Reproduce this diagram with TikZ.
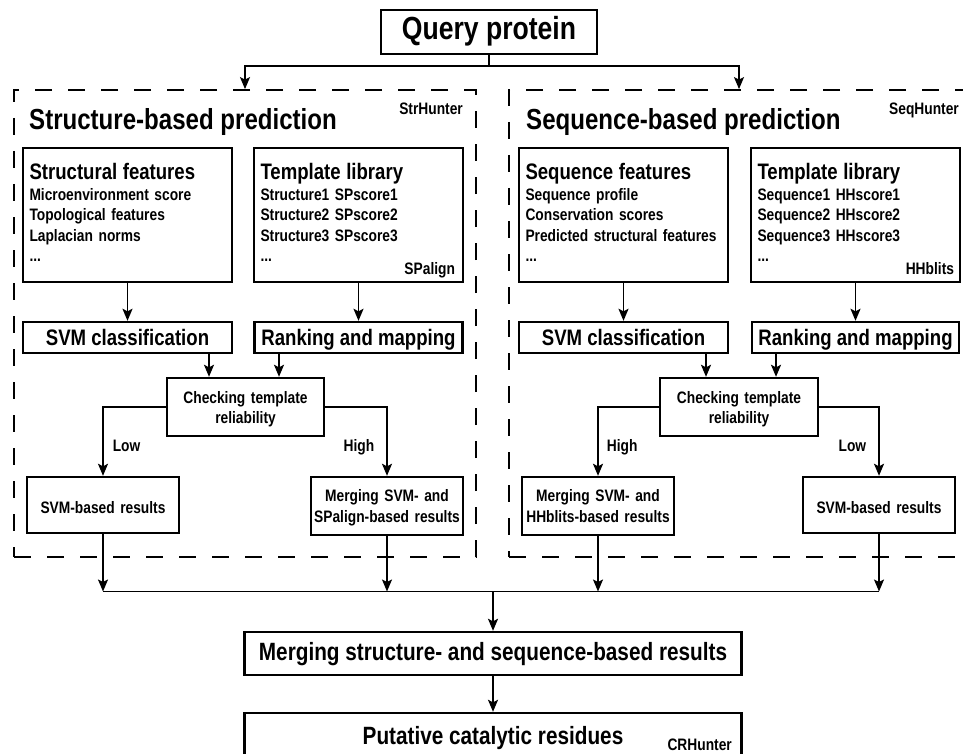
\documentclass[tikz,border=0pt]{standalone}
\usepackage{fontspec}
\setmainfont{Liberation Sans}[FakeStretch=0.83]
\usetikzlibrary{arrows.meta}

\newcommand\fsz[2]{\fontsize{#1}{#2}\selectfont\bfseries}

\tikzset{
  solidbox/.style={draw,line width=2.4pt,inner xsep=2pt,inner ysep=0pt,align=center},
  listbox/.style={draw,line width=2.4pt,inner xsep=6.5pt,inner ysep=0pt,align=left,
    text width=196pt,text height=32pt,text depth=102pt,font=\fsz{16.6}{20.4}},
  midbox/.style={solidbox,text height=23pt,text depth=8pt,font=\fsz{22.4}{24}},
  resbox/.style={solidbox,text width=148pt,font=\fsz{16.6}{21}},
  dashframe/.style={draw,line width=1.8pt,dash pattern=on 17pt off 16pt,inner sep=0pt},
  arr/.style={line width=1.6pt,-{Stealth[length=12pt,width=10pt,inset=2.5pt]}},
  conn/.style={line width=1.6pt},
  tag/.style={inner sep=0pt,font=\fsz{16.6}{20}},
  headline/.style={inner sep=0pt,font=\fsz{29}{30}},
}

\begin{document}
\begin{tikzpicture}[x=1pt,y=-1pt]
  \useasboundingbox (0,0) rectangle (963,754);

  % input
  \node[solidbox,minimum width=216pt,text height=30pt,text depth=14pt,font=\fsz{32}{34}] (query) at (489,32) {Query protein};

  % the two predictors
  \node[dashframe,minimum width=462pt,minimum height=467pt] (strframe) at (245,323.5) {};
  \node[dashframe,minimum width=460pt,minimum height=467pt] (seqframe) at (739,323.5) {};
  \node[headline,anchor=base west] (strtitle) at (29,129.5) {Structure-based prediction};
  \node[tag,anchor=base east] (strtool) at (463,114.5) {StrHunter};
  \node[headline,anchor=base west] (seqtitle) at (526,129.5) {Sequence-based prediction};
  \node[tag,anchor=base east] (seqtool) at (959,114.5) {SeqHunter};

  \coordinate (split) at (489,66);
  \draw[conn] (query.south) -- (split);
  \draw[arr] (split) -| (strframe.north);
  \draw[arr] (split) -| (seqframe.north);

  % structure side
  \node[listbox] (strfeat) at (127.5,215) {{\fsz{22.4}{20.4}Structural features}\\Microenvironment score\\Topological features\\Laplacian norms\\...};
  \node[listbox] (strtmpl) at (358.5,215) {{\fsz{22.4}{20.4}Template library}\\Structure1 SPscore1\\Structure2 SPscore2\\Structure3 SPscore3\\...};
  \node[tag,anchor=base east] (spalign) at ([xshift=-9pt,yshift=9pt]strtmpl.south east) {SPalign};

  \node[midbox,minimum width=209pt] (strsvm) at (127.5,337.5) {SVM classification};
  \node[midbox,minimum width=208pt] (strrank) at (358.5,337.5) {Ranking and mapping};
  \draw[arr] (strfeat.south) -- (strsvm.north);
  \draw[arr] (strtmpl.south) -- (strrank.north);

  \node[resbox,text width=153pt,text height=25.3pt,text depth=32.7pt,font=\fsz{16.6}{20}] (strchk) at (245.5,407) {Checking template\\reliability};
  \draw[arr] (strsvm.south -| 209,0) -- (strchk.north -| 209,0);
  \draw[arr] (strrank.south -| 279,0) -- (strchk.north -| 279,0);

  \node[resbox,text height=36pt,text depth=20pt] (strlow) at (103,505) {SVM-based results};
  \node[resbox,text height=24.7pt,text depth=33.3pt] (strhigh) at (387,506) {Merging SVM- and\\SPalign-based results};
  \draw[arr] (strchk.west) -| node[tag,pos=0.82,anchor=base west,xshift=9pt] {Low} (strlow.north);
  \draw[arr] (strchk.east) -| node[tag,pos=0.82,anchor=base east,xshift=-12pt] {High} (strhigh.north);

  % sequence side
  \node[listbox] (seqfeat) at (623.5,215) {{\fsz{22.4}{20.4}Sequence features}\\Sequence profile\\Conservation scores\\Predicted structural features\\...};
  \node[listbox] (seqtmpl) at (855.5,215) {{\fsz{22.4}{20.4}Template library}\\Sequence1 HHscore1\\Sequence2 HHscore2\\Sequence3 HHscore3\\...};
  \node[tag,anchor=base east] (hhblits) at ([xshift=-7pt,yshift=9pt]seqtmpl.south east) {HHblits};

  \node[midbox,minimum width=209pt] (seqsvm) at (623.5,337.5) {SVM classification};
  \node[midbox,minimum width=207pt] (seqrank) at (855.5,337.5) {Ranking and mapping};
  \draw[arr] (seqfeat.south) -- (seqsvm.north);
  \draw[arr] (seqtmpl.south) -- (seqrank.north);

  \node[resbox,text width=154pt,text height=25.3pt,text depth=32.7pt,font=\fsz{16.6}{20}] (seqchk) at (739,407) {Checking template\\reliability};
  \draw[arr] (seqsvm.south -| 706,0) -- (seqchk.north -| 706,0);
  \draw[arr] (seqrank.south -| 776,0) -- (seqchk.north -| 776,0);

  \node[resbox,text height=24.7pt,text depth=33.3pt] (seqhigh) at (598,506) {Merging SVM- and\\HHblits-based results};
  \node[resbox,text height=36pt,text depth=20pt] (seqlow) at (879,505) {SVM-based results};
  \draw[arr] (seqchk.west) -| node[tag,pos=0.82,anchor=base west,xshift=8pt] {High} (seqhigh.north);
  \draw[arr] (seqchk.east) -| node[tag,pos=0.82,anchor=base east,xshift=-12pt] {Low} (seqlow.north);

  % combination
  \coordinate (join) at (493,591.5);
  \draw[arr] (strlow.south) -- (strlow.south |- join);
  \draw[arr] (strhigh.south) -- (strhigh.south |- join);
  \draw[arr] (seqhigh.south) -- (seqhigh.south |- join);
  \draw[arr] (seqlow.south) -- (seqlow.south |- join);
  \draw[conn] (strlow.south |- join) -- (seqlow.south |- join);

  \node[solidbox,minimum width=497pt,text height=28pt,text depth=15pt,font=\fsz{25}{27}] (merge) at (493,653.5) {Merging structure- and sequence-based results};
  \node[solidbox,minimum width=497pt,text height=31pt,text depth=16pt,font=\fsz{25}{27}] (residues) at (493,736.5) {Putative catalytic residues};
  \node[tag,anchor=base east] (crhunter) at (732,750) {CRHunter};
  \draw[arr] (join) -- (merge.north);
  \draw[arr] (merge.south) -- (residues.north);
\end{tikzpicture}
\end{document}
